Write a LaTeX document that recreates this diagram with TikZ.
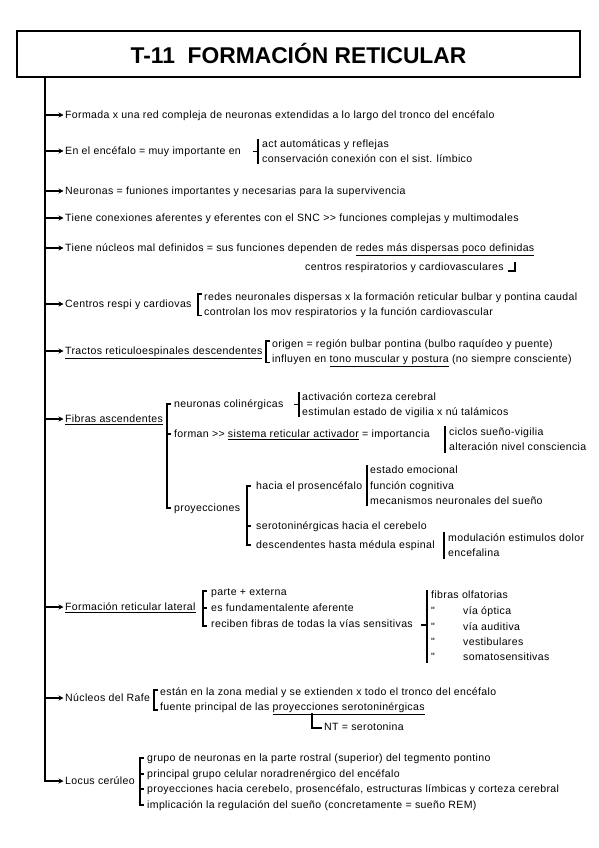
\documentclass[tikz,border=0pt]{standalone}
\usepackage{fontspec}
\setmainfont{Liberation Sans}[LetterSpace=3.3]
\newfontfamily\titlefont{Liberation Sans}
\newfontfamily\qfont{Liberation Sans}
\usetikzlibrary{arrows.meta,calc}
\tikzset{
  tx/.style={anchor=west, inner sep=0pt, text height=8pt, text depth=1pt, font=\fontsize{10.55}{12}\selectfont},
  brk/.style={line width=1.6pt},
  arr/.style={line width=1.3pt, -{Stealth[length=5pt,width=5pt]}, shorten >=1.5pt},
  trunk/.style={line width=2pt},
  titlebox/.style={draw, line width=1.5pt, minimum width=563pt, minimum height=46pt, inner sep=0pt,
    font=\titlefont\bfseries\fontsize{22.8}{26}\selectfont},
}
\begin{document}
\begin{tikzpicture}[x=1pt,y=-1pt]
\useasboundingbox (0,0) rectangle (599,848);
\node[titlebox] (title) at (298.5,54) {T-11\ \ FORMACIÓN RETICULAR};
\coordinate (tk) at ([xshift=29pt]title.south west);

% main rows
\node[tx] (r1) at (65,115) {Formada x una red compleja de neuronas extendidas a lo largo del tronco del encéfalo};
\node[tx] (r2) at (65,151) {En el encéfalo = muy importante en};
\node[tx] (r2a) at (262,144) {act automáticas y reflejas};
\node[tx] (r2b) at (262,159) {conservación conexión con el sist. límbico};
\node[tx] (r3) at (65,191) {Neuronas = funiones importantes y necesarias para la supervivencia};
\node[tx] (r4) at (65,218) {Tiene conexiones aferentes y eferentes con el SNC >{}> funciones complejas y multimodales};
\node[tx] (r5) at (65,248) {Tiene núcleos mal definidos = sus funciones dependen de \underline{redes más dispersas poco definidas}};
\node[tx] (r5b) at (305,267) {centros respiratorios y cardiovasculares};
\node[tx] (r6) at (65,304) {Centros respi y cardiovas};
\node[tx] (r6a) at (204,297) {redes neuronales dispersas x la formación reticular bulbar y pontina caudal};
\node[tx] (r6b) at (204,312) {controlan los mov respiratorios y la función cardiovascular};
\node[tx] (r7) at (65,351) {\underline{Tractos reticuloespinales descendentes}};
\node[tx] (r7a) at (272,344) {origen = región bulbar pontina (bulbo raquídeo y puente)};
\node[tx] (r7b) at (272,359) {influyen en \underline{tono muscular y postura} (no siempre consciente)};
\node[tx] (r8) at (65,419) {\underline{Fibras ascendentes}};
\node[tx] (f1) at (174,404) {neuronas colinérgicas};
\node[tx] (f1a) at (302,397) {activación corteza cerebral};
\node[tx] (f1b) at (302,412) {estimulan estado de vigilia x nú talámicos};
\node[tx] (f2) at (174,434) {forman >{}> \underline{sistema reticular activador} = importancia};
\node[tx] (f2a) at (449,432) {ciclos sueño-vigilia};
\node[tx] (f2b) at (449,447) {alteración nivel consciencia};
\node[tx] (f3) at (174,508) {proyecciones};
\node[tx] (p1) at (256,486) {hacia el prosencéfalo};
\node[tx] (p1a) at (370,470) {estado emocional};
\node[tx] (p1b) at (370,486) {función cognitiva};
\node[tx] (p1c) at (370,501) {mecanismos neuronales del sueño};
\node[tx] (p2) at (256,526) {serotoninérgicas hacia el cerebelo};
\node[tx] (p3) at (256,545) {descendentes hasta médula espinal};
\node[tx] (p3a) at (448,538) {modulación estimulos dolor};
\node[tx] (p3b) at (448,553) {encefalina};
\node[tx] (r9) at (65,607) {\underline{Formación reticular lateral}};
\node[tx] (r9a) at (211,592) {parte + externa};
\node[tx] (r9b) at (211,608) {es fundamentalente aferente};
\node[tx] (r9c) at (211,624) {reciben fibras de todas la vías sensitivas};
\node[tx] (s1) at (431,595) {fibras olfatorias};
\node[tx] (q2) at (431,611) {\qfont "};
\node[tx] (q3) at (431,627) {\qfont "};
\node[tx] (q4) at (431,642) {\qfont "};
\node[tx] (q5) at (431,657) {\qfont "};
\node[tx] (s2) at (463,611) {vía óptica};
\node[tx] (s3) at (463,627) {vía auditiva};
\node[tx] (s4) at (463,642) {vestibulares};
\node[tx] (s5) at (463,657) {somatosensitivas};
\node[tx] (r10) at (65,698) {Núcleos del Rafe};
\node[tx] (r10a) at (160,692) {están en la zona medial y se extienden x todo el tronco del encéfalo};
\node[tx] (r10b) at (160,707) {fuente principal de las \underline{proyecciones serotoninérgicas}};
\node[tx] (nt) at (324,727) {NT = serotonina};
\node[tx] (r11) at (65,781) {Locus cerúleo};
\node[tx] (l1) at (147,758) {grupo de neuronas en la parte rostral (superior) del tegmento pontino};
\node[tx] (l2) at (147,774) {principal grupo celular noradrenérgico del encéfalo};
\node[tx] (l3) at (147,789) {proyecciones hacia cerebelo, prosencéfalo, estructuras límbicas y corteza cerebral};
\node[tx] (l4) at (147,805) {implicación la regulación del sueño (concretamente = sueño REM)};

% trunk and arrows
\draw[trunk, -{Stealth[length=5pt,width=5pt]}, shorten >=1.5pt] (tk) |- (r11.west);
\foreach \n in {r1,r2,r3,r4,r5,r6,r7,r8,r9,r10}
  \draw[arr] (\n.west -| tk) -- (\n.west);

% brackets
\draw[brk] ([shift={(-4,-5)}]r2a.west) -- ([shift={(-4,5)}]r2b.west);
\draw[brk] ($(r2a.west)!.5!(r2b.west)+(-9,0)$) -- ++(5,0);
\draw[brk] ([shift={(4,4)}]r5b.east) -- ([shift={(11,4)}]r5b.east) -- ([shift={(11,-5)}]r5b.east);
\draw[brk] ([shift={(-2.5,-3)}]r6a.west) -- ([shift={(-6,-3)}]r6a.west) -- ([shift={(-6,3.5)}]r6b.west) -- ([shift={(-2.5,3.5)}]r6b.west);
\draw[brk] ([shift={(-2.5,-3)}]r7a.west) -- ([shift={(-6,-3)}]r7a.west) -- ([shift={(-6,3.5)}]r7b.west) -- ([shift={(-2.5,3.5)}]r7b.west);
% fibras
\draw[brk] ([shift={(-3.5,0)}]f1.west) -- ([shift={(-7,0)}]f1.west) -- ([shift={(-7,0)}]f3.west) -- ([shift={(-3.5,0)}]f3.west);
\draw[brk] ([xshift=-7pt]f2.west) -- ([xshift=-3.5pt]f2.west);
\draw[brk] ([shift={(-3,-5)}]f1a.west) -- ([shift={(-3,5)}]f1b.west);
\draw[brk] ($(f1a.west)!.5!(f1b.west)+(-8,0)$) -- ++(5,0);
\draw[brk] ([shift={(-4,-6)}]f2a.west) -- ([shift={(-4,6)}]f2b.west);
\draw[brk] ([shift={(-5.5,0)}]p1.west) -- ([shift={(-9,0)}]p1.west) -- ([shift={(-9,0)}]p3.west) -- ([shift={(-5.5,0)}]p3.west);
\draw[brk] ([xshift=-9pt]p2.west) -- ([xshift=-5.5pt]p2.west);
\draw[brk] ([shift={(-3,-5)}]p1a.west) -- ([shift={(-3,5)}]p1c.west);
\draw[brk] ([shift={(-4,-6)}]p3a.west) -- ([shift={(-4,6)}]p3b.west);
% formacion reticular lateral
\draw[brk] ([shift={(-4.5,-1)}]r9a.west) -- ([shift={(-8,-1)}]r9a.west) -- ([shift={(-8,2)}]r9c.west) -- ([shift={(-4.5,2)}]r9c.west);
\draw[brk] ([xshift=-8pt]r9b.west) -- ([xshift=-4.5pt]r9b.west);
\draw[brk] ([shift={(-4,-5)}]s1.west) -- ([shift={(-4,6)}]q5.west);
\draw[brk] ($(r9c.west -| s1.west)+(-10,1)$) -- ++(6,0);
% rafe
\draw[brk] ([shift={(-2.5,-2)}]r10a.west) -- ([shift={(-6,-2)}]r10a.west) -- ([shift={(-6,3)}]r10b.west) -- ([shift={(-2.5,3)}]r10b.west);
\coordinate (ntc) at ([shift={(152,6)}]r10b.west);
\draw[brk] (ntc) |- ([shift={(-2,1)}]nt.west);
% locus
\draw[brk] ([shift={(-3.5,0)}]l1.west) -- ([shift={(-7,0)}]l1.west) -- ([shift={(-7,0)}]l4.west) -- ([shift={(-3.5,0)}]l4.west);
\draw[brk] ([xshift=-7pt]l2.west) -- ([xshift=-3.5pt]l2.west);
\draw[brk] ([xshift=-7pt]l3.west) -- ([xshift=-3.5pt]l3.west);
\end{tikzpicture}
\end{document}
